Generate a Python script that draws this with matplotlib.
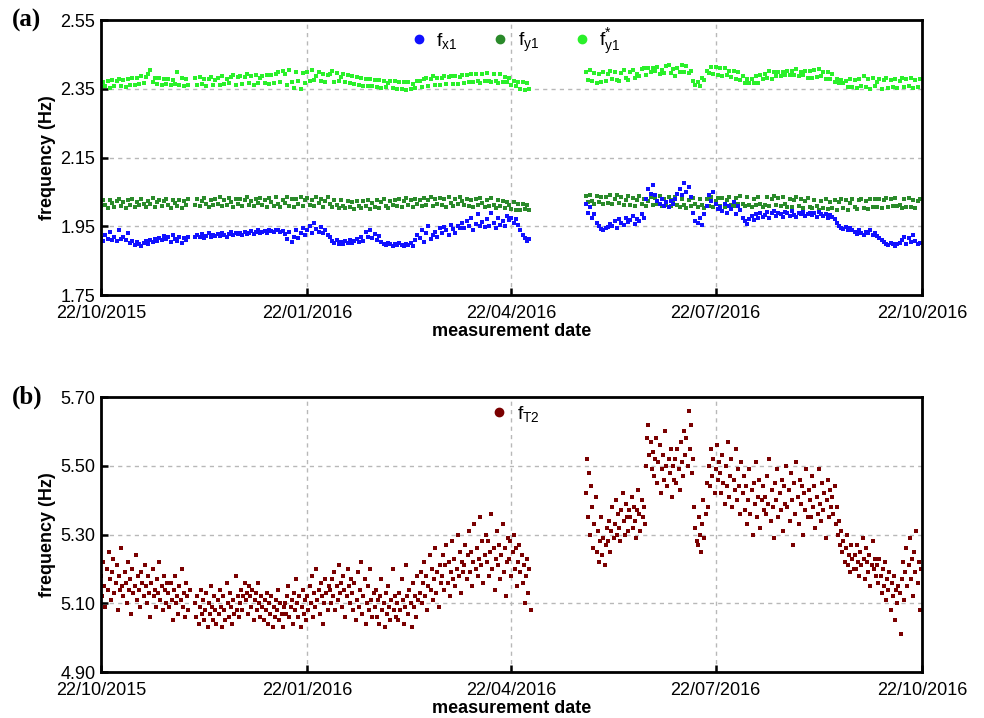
import numpy as np
import matplotlib
matplotlib.use('Agg')
import matplotlib.pyplot as plt
import matplotlib.dates as mdates
from matplotlib.lines import Line2D
from datetime import datetime

plt.rcParams['font.family'] = ['Liberation Sans', 'DejaVu Sans']
plt.rcParams['mathtext.default'] = 'regular'

# measurement segments: first day (days after 22/10/2015) of each continuous block
seg_start = [0, 42, 216]
seg_len_a = [40, 150, 150]   # one reading per day, panel (a)
seg_len_b = [80, 300, 300]   # two readings per day, panel (b)

fx1 = [
    1.915, 1.908, 1.925, 1.912, 1.934, 1.910, 1.918, 1.906, 1.938, 1.914,
    1.920, 1.909, 1.930, 1.903, 1.908, 1.897, 1.905, 1.900, 1.894, 1.902,
    1.907, 1.899, 1.911, 1.904, 1.913, 1.908, 1.916, 1.910, 1.922, 1.912,
    1.918, 1.905, 1.925, 1.913, 1.908, 1.920, 1.901, 1.915, 1.911, 1.919,
    # block 2
    1.918, 1.925, 1.920, 1.928, 1.915, 1.923, 1.930, 1.919, 1.926, 1.921,
    1.929, 1.922, 1.931, 1.925, 1.920, 1.928, 1.933, 1.924, 1.930, 1.927,
    1.932, 1.926, 1.935, 1.929, 1.931, 1.936, 1.928, 1.933, 1.938, 1.930,
    1.934, 1.937, 1.932, 1.939, 1.936, 1.933, 1.938, 1.940, 1.935, 1.937,
    1.928, 1.912, 1.935, 1.905, 1.920, 1.940, 1.915, 1.930, 1.945, 1.925,
    1.938, 1.952, 1.930, 1.960, 1.942, 1.935, 1.948, 1.930, 1.940, 1.925,
    1.918, 1.906, 1.902, 1.909, 1.900, 1.904, 1.898, 1.907, 1.903, 1.910,
    1.902, 1.906, 1.912, 1.905, 1.918, 1.908, 1.935, 1.920, 1.940, 1.915,
    1.928, 1.910, 1.922, 1.905, 1.900, 1.896, 1.902, 1.898, 1.893, 1.899,
    1.895, 1.901, 1.897, 1.892, 1.900, 1.896, 1.903, 1.894, 1.910, 1.925,
    1.915, 1.940, 1.905, 1.930, 1.950, 1.912, 1.925, 1.935, 1.920, 1.945,
    1.932, 1.948, 1.938, 1.925, 1.955, 1.942, 1.930, 1.950, 1.945, 1.960,
    1.945, 1.965, 1.950, 1.975, 1.940, 1.958, 1.985, 1.952, 1.962, 1.948,
    1.970, 1.950, 1.990, 1.960, 1.945, 1.975, 1.955, 1.965, 1.950, 1.980,
    1.968, 1.975, 1.960, 1.972, 1.955, 1.940, 1.925, 1.915, 1.908, 1.912,
    # block 3
    2.015, 1.990, 2.005, 1.975, 1.985, 1.960, 1.950, 1.942, 1.938, 1.945,
    1.948, 1.958, 1.952, 1.965, 1.945, 1.970, 1.960, 1.955, 1.975, 1.962,
    1.968, 1.980, 1.958, 1.972, 1.965, 1.985, 1.975, 2.030, 2.060, 2.045,
    2.070, 2.040, 2.025, 2.015, 2.030, 2.010, 2.020, 2.005, 2.025, 2.015,
    2.030, 2.045, 2.060, 2.040, 2.075, 2.050, 2.065, 2.035, 1.990, 1.965,
    1.960, 1.975, 1.955, 1.985, 2.010, 2.040, 2.025, 2.050, 2.015, 2.000,
    2.005, 1.995, 2.015, 1.990, 2.010, 2.000, 2.020, 1.985, 2.008, 1.998,
    1.975, 1.965, 1.958, 1.972, 1.980, 1.968, 1.985, 1.975, 1.990, 1.978,
    1.982, 1.992, 1.975, 1.988, 1.995, 1.980, 1.990, 1.985, 1.978, 1.993,
    1.988, 1.980, 1.996, 1.984, 1.978, 1.990, 1.986, 1.992, 1.980, 1.985,
    1.990, 1.982, 1.988, 1.978, 1.992, 1.985, 1.980, 1.987, 1.975, 1.983,
    1.978, 1.970, 1.960, 1.952, 1.946, 1.942, 1.948, 1.940, 1.945, 1.938,
    1.935, 1.928, 1.940, 1.932, 1.926, 1.934, 1.930, 1.938, 1.925, 1.932,
    1.922, 1.915, 1.910, 1.905, 1.900, 1.896, 1.902, 1.898, 1.893, 1.899,
    1.902, 1.910, 1.920, 1.900, 1.915, 1.905, 1.925, 1.908, 1.898, 1.903,
]

fy1 = [
    2.008, 2.026, 2.012, 2.004, 2.028, 2.018, 2.006, 2.024, 2.030, 2.010,
    2.022, 2.003, 2.027, 2.013, 2.031, 2.007, 2.021, 2.011, 2.029, 2.015,
    2.005, 2.025, 2.014, 2.032, 2.006, 2.020, 2.028, 2.009, 2.023, 2.030,
    2.012, 2.004, 2.027, 2.019, 2.008, 2.026, 2.003, 2.024, 2.013, 2.029,
    # block 2
    2.012, 2.030, 2.008, 2.025, 2.033, 2.014, 2.006, 2.028, 2.011, 2.031,
    2.016, 2.034, 2.009, 2.027, 2.013, 2.032, 2.022, 2.007, 2.029, 2.015,
    2.031, 2.010, 2.026, 2.035, 2.012, 2.024, 2.008, 2.030, 2.017, 2.033,
    2.011, 2.028, 2.006, 2.032, 2.020, 2.009, 2.034, 2.014, 2.005, 2.027,
    2.018, 2.035, 2.010, 2.029, 2.007, 2.031, 2.015, 2.034, 2.008, 2.026,
    2.033, 2.012, 2.028, 2.009, 2.036, 2.017, 2.030, 2.006, 2.024, 2.034,
    2.014, 2.005, 2.027, 2.011, 2.003, 2.026, 2.009, 2.002, 2.023, 2.007,
    2.021, 2.001, 2.025, 2.010, 2.004, 2.024, 2.008, 2.028, 2.000, 2.019,
    2.006, 2.026, 2.002, 2.021, 2.029, 2.008, 2.004, 2.025, 2.011, 2.027,
    2.009, 2.030, 2.006, 2.024, 2.032, 2.012, 2.027, 2.007, 2.031, 2.014,
    2.028, 2.008, 2.032, 2.013, 2.026, 2.035, 2.010, 2.030, 2.016, 2.033,
    2.011, 2.029, 2.007, 2.034, 2.019, 2.009, 2.031, 2.014, 2.036, 2.025,
    2.013, 2.031, 2.008, 2.027, 2.005, 2.030, 2.012, 2.033, 2.019, 2.006,
    2.028, 2.010, 2.032, 2.013, 2.004, 2.026, 2.009, 2.024, 2.002, 2.020,
    2.011, 2.001, 2.022, 1.999, 2.016, 1.998, 2.014, 2.000, 2.012, 1.997,
    # block 3
    2.038, 2.020, 2.041, 2.024, 2.015, 2.039, 2.021, 2.036, 2.016, 2.035,
    2.019, 2.040, 2.014, 2.030, 2.042, 2.017, 2.034, 2.012, 2.028, 2.038,
    2.013, 2.032, 2.010, 2.027, 2.037, 2.014, 2.031, 2.009, 2.025, 2.036,
    2.011, 2.033, 2.016, 2.037, 2.010, 2.029, 2.013, 2.035, 2.008, 2.026,
    2.034, 2.012, 2.006, 2.030, 2.011, 2.004, 2.028, 2.009, 2.033, 2.014,
    2.007, 2.031, 2.012, 2.003, 2.029, 2.008, 2.034, 2.006, 2.024, 2.033,
    2.010, 2.032, 2.007, 2.027, 2.035, 2.013, 2.009, 2.033, 2.015, 2.037,
    2.014, 2.008, 2.035, 2.012, 2.006, 2.031, 2.011, 2.036, 2.016, 2.005,
    2.013, 2.034, 2.008, 2.030, 2.037, 2.012, 2.032, 2.009, 2.035, 2.014,
    2.007, 2.031, 2.005, 2.026, 2.034, 2.008, 2.029, 2.004, 2.024, 2.033,
    2.006, 2.002, 2.027, 2.008, 1.999, 2.025, 2.004, 2.030, 2.001, 2.021,
    2.003, 2.028, 1.999, 2.022, 2.030, 2.002, 2.026, 1.998, 2.019, 2.029,
    2.005, 2.000, 2.027, 2.031, 2.003, 2.024, 2.001, 2.029, 2.006, 2.030,
    2.007, 2.031, 2.004, 2.026, 2.033, 2.005, 2.029, 2.010, 2.032, 2.008,
    2.011, 2.004, 2.030, 2.007, 2.032, 2.005, 2.028, 2.002, 2.024, 2.031,
]

fy1_star = [
    2.354, 2.371, 2.358, 2.374, 2.352, 2.376, 2.357, 2.373, 2.379, 2.359,
    2.377, 2.356, 2.380, 2.361, 2.383, 2.362, 2.382, 2.364, 2.386, 2.366,
    2.384, 2.392, 2.405, 2.369, 2.381, 2.364, 2.383, 2.361, 2.378, 2.365,
    2.380, 2.362, 2.377, 2.364, 2.398, 2.360, 2.381, 2.357, 2.378, 2.362,
    # block 2
    2.381, 2.360, 2.384, 2.363, 2.378, 2.358, 2.380, 2.385, 2.362, 2.377,
    2.383, 2.361, 2.387, 2.364, 2.380, 2.368, 2.385, 2.390, 2.362, 2.384,
    2.388, 2.365, 2.385, 2.392, 2.366, 2.387, 2.362, 2.389, 2.368, 2.383,
    2.386, 2.366, 2.390, 2.364, 2.391, 2.368, 2.394, 2.398, 2.370, 2.402,
    2.392, 2.362, 2.406, 2.370, 2.352, 2.398, 2.374, 2.350, 2.395, 2.368,
    2.398, 2.372, 2.405, 2.376, 2.386, 2.400, 2.373, 2.394, 2.370, 2.391,
    2.394, 2.402, 2.370, 2.396, 2.372, 2.385, 2.392, 2.369, 2.390, 2.366,
    2.387, 2.364, 2.384, 2.361, 2.382, 2.359, 2.380, 2.357, 2.378, 2.358,
    2.377, 2.355, 2.376, 2.353, 2.374, 2.354, 2.368, 2.373, 2.352, 2.372,
    2.351, 2.370, 2.349, 2.369, 2.348, 2.371, 2.350, 2.365, 2.352, 2.372,
    2.374, 2.354, 2.378, 2.383, 2.359, 2.380, 2.386, 2.362, 2.383, 2.360,
    2.382, 2.386, 2.363, 2.384, 2.388, 2.365, 2.387, 2.363, 2.385, 2.390,
    2.368, 2.390, 2.370, 2.392, 2.371, 2.394, 2.372, 2.368, 2.393, 2.373,
    2.395, 2.374, 2.370, 2.394, 2.372, 2.368, 2.392, 2.371, 2.385, 2.369,
    2.383, 2.362, 2.374, 2.358, 2.371, 2.350, 2.370, 2.348, 2.368, 2.350,
    # block 3
    2.400, 2.377, 2.404, 2.372, 2.396, 2.368, 2.392, 2.370, 2.398, 2.374,
    2.394, 2.402, 2.380, 2.400, 2.377, 2.372, 2.397, 2.404, 2.382, 2.376,
    2.400, 2.406, 2.382, 2.394, 2.386, 2.408, 2.412, 2.390, 2.410, 2.400,
    2.412, 2.402, 2.414, 2.393, 2.406, 2.395, 2.416, 2.420, 2.397, 2.408,
    2.388, 2.410, 2.399, 2.419, 2.398, 2.417, 2.396, 2.403, 2.372, 2.360,
    2.370, 2.358, 2.382, 2.377, 2.403, 2.395, 2.415, 2.394, 2.413, 2.391,
    2.410, 2.388, 2.412, 2.390, 2.401, 2.385, 2.403, 2.380, 2.400, 2.377,
    2.388, 2.368, 2.380, 2.367, 2.379, 2.366, 2.386, 2.368, 2.390, 2.378,
    2.392, 2.381, 2.401, 2.379, 2.399, 2.387, 2.398, 2.388, 2.400, 2.390,
    2.402, 2.391, 2.401, 2.389, 2.409, 2.388, 2.400, 2.390, 2.402, 2.382,
    2.403, 2.383, 2.405, 2.385, 2.407, 2.387, 2.398, 2.378, 2.400, 2.380,
    2.392, 2.370, 2.380, 2.368, 2.376, 2.366, 2.374, 2.354, 2.378, 2.356,
    2.376, 2.352, 2.380, 2.357, 2.386, 2.354, 2.378, 2.350, 2.382, 2.358,
    2.371, 2.379, 2.351, 2.375, 2.383, 2.353, 2.377, 2.356, 2.380, 2.352,
    2.374, 2.382, 2.354, 2.378, 2.357, 2.381, 2.352, 2.376, 2.356, 2.378,
]

fT2 = [
    5.18, 5.12, 5.22, 5.15, 5.09, 5.20, 5.14, 5.25, 5.17, 5.11, 5.19, 5.23, 5.13, 5.16, 5.21, 5.08, 5.18, 5.14, 5.26, 5.15,
    5.12, 5.19, 5.16, 5.10, 5.22, 5.14, 5.17, 5.07, 5.20, 5.13, 5.15, 5.24, 5.11, 5.18, 5.14, 5.09, 5.19, 5.16, 5.12, 5.21,
    5.15, 5.10, 5.18, 5.13, 5.06, 5.16, 5.20, 5.12, 5.14, 5.09, 5.17, 5.13, 5.22, 5.11, 5.15, 5.08, 5.18, 5.14, 5.10, 5.16,
    5.13, 5.09, 5.16, 5.11, 5.05, 5.14, 5.18, 5.10, 5.12, 5.07, 5.15, 5.11, 5.20, 5.09, 5.13, 5.06, 5.16, 5.12, 5.08, 5.14,
    # block 2
    5.10, 5.06, 5.12, 5.04, 5.09, 5.14, 5.07, 5.11, 5.05, 5.08, 5.13, 5.03, 5.10, 5.07, 5.15, 5.09, 5.05, 5.12, 5.08, 5.04,
    5.11, 5.07, 5.14, 5.09, 5.03, 5.12, 5.08, 5.05, 5.16, 5.10, 5.06, 5.13, 5.09, 5.04, 5.11, 5.07, 5.18, 5.08, 5.12, 5.06,
    5.10, 5.14, 5.08, 5.12, 5.16, 5.11, 5.13, 5.07, 5.15, 5.12, 5.09, 5.14, 5.05, 5.11, 5.13, 5.08, 5.16, 5.10, 5.06, 5.12,
    5.09, 5.05, 5.11, 5.08, 5.13, 5.04, 5.10, 5.07, 5.12, 5.03, 5.09, 5.06, 5.11, 5.08, 5.14, 5.05, 5.10, 5.07, 5.03, 5.09,
    5.10, 5.07, 5.12, 5.15, 5.06, 5.09, 5.11, 5.04, 5.13, 5.08, 5.17, 5.10, 5.06, 5.12, 5.03, 5.09, 5.14, 5.07, 5.11, 5.05,
    5.12, 5.08, 5.15, 5.10, 5.18, 5.06, 5.13, 5.09, 5.20, 5.11, 5.14, 5.07, 5.16, 5.12, 5.04, 5.10, 5.17, 5.13, 5.08, 5.15,
    5.14, 5.10, 5.17, 5.12, 5.19, 5.08, 5.15, 5.11, 5.21, 5.13, 5.16, 5.09, 5.18, 5.14, 5.06, 5.12, 5.20, 5.15, 5.10, 5.17,
    5.13, 5.08, 5.16, 5.05, 5.11, 5.19, 5.09, 5.14, 5.22, 5.07, 5.12, 5.17, 5.04, 5.10, 5.15, 5.08, 5.20, 5.11, 5.06, 5.13,
    5.09, 5.14, 5.06, 5.11, 5.04, 5.12, 5.17, 5.08, 5.10, 5.03, 5.13, 5.07, 5.15, 5.09, 5.05, 5.11, 5.20, 5.08, 5.12, 5.06,
    5.10, 5.05, 5.13, 5.08, 5.17, 5.11, 5.04, 5.09, 5.21, 5.12, 5.07, 5.14, 5.10, 5.03, 5.16, 5.09, 5.12, 5.06, 5.18, 5.11,
    5.13, 5.19, 5.10, 5.16, 5.22, 5.12, 5.18, 5.08, 5.15, 5.24, 5.14, 5.20, 5.11, 5.17, 5.26, 5.13, 5.19, 5.09, 5.21, 5.16,
    5.18, 5.24, 5.14, 5.21, 5.27, 5.16, 5.22, 5.12, 5.19, 5.28, 5.17, 5.23, 5.15, 5.20, 5.30, 5.18, 5.25, 5.13, 5.22, 5.19,
    5.21, 5.27, 5.17, 5.24, 5.31, 5.19, 5.25, 5.15, 5.22, 5.33, 5.20, 5.26, 5.18, 5.23, 5.35, 5.21, 5.28, 5.16, 5.24, 5.30,
    5.22, 5.28, 5.18, 5.25, 5.36, 5.20, 5.26, 5.14, 5.23, 5.31, 5.21, 5.27, 5.17, 5.24, 5.33, 5.19, 5.26, 5.12, 5.22, 5.29,
    5.23, 5.28, 5.18, 5.25, 5.30, 5.20, 5.26, 5.15, 5.22, 5.27, 5.19, 5.24, 5.16, 5.21, 5.10, 5.18, 5.23, 5.13, 5.20, 5.08,
    # block 3
    5.42, 5.52, 5.35, 5.48, 5.30, 5.44, 5.38, 5.26, 5.33, 5.41, 5.25, 5.31, 5.22, 5.28, 5.35, 5.24, 5.29, 5.21, 5.27, 5.32,
    5.28, 5.34, 5.25, 5.31, 5.38, 5.29, 5.33, 5.40, 5.30, 5.36, 5.32, 5.28, 5.37, 5.42, 5.34, 5.30, 5.39, 5.35, 5.31, 5.37,
    5.35, 5.41, 5.32, 5.38, 5.34, 5.29, 5.37, 5.43, 5.36, 5.31, 5.40, 5.35, 5.38, 5.33, 5.50, 5.58, 5.62, 5.53, 5.57, 5.49,
    5.54, 5.47, 5.52, 5.58, 5.45, 5.51, 5.56, 5.42, 5.49, 5.53, 5.46, 5.60, 5.50, 5.44, 5.52, 5.48, 5.55, 5.41, 5.50, 5.46,
    5.52, 5.45, 5.55, 5.49, 5.43, 5.57, 5.51, 5.47, 5.60, 5.53, 5.58, 5.50, 5.66, 5.55, 5.62, 5.48, 5.52, 5.38, 5.32, 5.28,
    5.27, 5.35, 5.30, 5.25, 5.33, 5.40, 5.29, 5.36, 5.45, 5.38, 5.50, 5.44, 5.55, 5.47, 5.52, 5.42, 5.49, 5.56, 5.46, 5.51,
    5.48, 5.42, 5.53, 5.45, 5.39, 5.50, 5.44, 5.57, 5.41, 5.47, 5.52, 5.38, 5.46, 5.43, 5.55, 5.40, 5.49, 5.44, 5.36, 5.51,
    5.42, 5.47, 5.37, 5.44, 5.33, 5.40, 5.49, 5.36, 5.43, 5.30, 5.45, 5.39, 5.51, 5.35, 5.41, 5.46, 5.32, 5.40, 5.44, 5.37,
    5.41, 5.36, 5.47, 5.39, 5.52, 5.34, 5.43, 5.38, 5.29, 5.45, 5.40, 5.49, 5.35, 5.42, 5.37, 5.46, 5.31, 5.44, 5.39, 5.50,
    5.38, 5.43, 5.34, 5.48, 5.40, 5.27, 5.45, 5.36, 5.51, 5.41, 5.33, 5.46, 5.39, 5.44, 5.30, 5.42, 5.37, 5.49, 5.35, 5.43,
    5.40, 5.35, 5.47, 5.38, 5.44, 5.32, 5.41, 5.36, 5.49, 5.39, 5.34, 5.45, 5.37, 5.42, 5.29, 5.40, 5.46, 5.35, 5.43, 5.38,
    5.41, 5.36, 5.44, 5.33, 5.38, 5.30, 5.34, 5.27, 5.31, 5.25, 5.28, 5.22, 5.26, 5.30, 5.21, 5.24, 5.19, 5.27, 5.23, 5.20,
    5.24, 5.20, 5.27, 5.22, 5.18, 5.25, 5.21, 5.29, 5.23, 5.17, 5.26, 5.22, 5.19, 5.24, 5.15, 5.21, 5.28, 5.20, 5.23, 5.18,
    5.21, 5.16, 5.23, 5.18, 5.13, 5.20, 5.15, 5.22, 5.11, 5.17, 5.14, 5.19, 5.08, 5.16, 5.12, 5.18, 5.05, 5.14, 5.10, 5.15,
    5.13, 5.01, 5.17, 5.22, 5.11, 5.19, 5.26, 5.15, 5.21, 5.29, 5.17, 5.23, 5.12, 5.25, 5.19, 5.31, 5.16, 5.22, 5.08, 5.20,
]

t0 = mdates.date2num(datetime(2015, 10, 22))
t1 = mdates.date2num(datetime(2016, 10, 22))
tick_dates = [datetime(2015, 10, 22), datetime(2016, 1, 22), datetime(2016, 4, 22),
              datetime(2016, 7, 22), datetime(2016, 10, 22)]


def sample_days(lengths, step):
    return np.concatenate([s + step * np.arange(n) for s, n in zip(seg_start, lengths)])


days_a = t0 + sample_days(seg_len_a, 1.0)
days_b = t0 + sample_days(seg_len_b, 0.5)

c_x1, c_y1, c_y1s, c_t2 = '#1010ff', '#2a8a2a', '#2af02a', '#7a0000'

fig = plt.figure(figsize=(9.84, 7.18), dpi=100)
ax1 = fig.add_axes([0.1026, 0.589, 0.8344, 0.383])
ax2 = fig.add_axes([0.1026, 0.064, 0.8344, 0.383])

ax1.plot(days_a, fy1_star, 's', ms=2.5, mew=0, color=c_y1s)
ax1.plot(days_a, fy1, 's', ms=2.5, mew=0, color=c_y1)
ax1.plot(days_a, fx1, 's', ms=2.5, mew=0, color=c_x1)
ax2.plot(days_b, fT2, 's', ms=2.4, mew=0, color=c_t2)

for ax, ylo, yhi in [(ax1, 1.75, 2.55), (ax2, 4.90, 5.70)]:
    ax.set_xlim(t0, t1)
    ax.set_ylim(ylo, yhi)
    ax.set_yticks(np.linspace(ylo, yhi, 5))
    ax.yaxis.set_major_formatter(plt.FormatStrFormatter('%.2f'))
    ax.set_xticks(mdates.date2num(tick_dates))
    ax.xaxis.set_major_formatter(mdates.DateFormatter('%d/%m/%Y'))
    ax.grid(True, color='#b8b8b8', linestyle=(0, (3, 3)), lw=1)
    ax.tick_params(direction='in', length=5, width=1.8, labelsize=13,
                   top=False, right=False)
    ax.tick_params(axis='x', pad=7)
    ax.tick_params(axis='y', pad=4)
    for sp in ax.spines.values():
        sp.set_linewidth(2)
    ax.set_xlabel('measurement date', fontsize=13, fontweight='bold', labelpad=1)
    ax.set_ylabel('frequency (Hz)', fontsize=13, fontweight='bold', labelpad=3)


def dot(c):
    return Line2D([], [], marker='o', ls='none', ms=6, color=c)


ax1.legend([dot(c_x1), dot(c_y1), dot(c_y1s)],
           [r'$\mathregular{f_{x1}}$', r'$\mathregular{f_{y1}}$', r'$\mathregular{f^{*}_{y1}}$'],
           loc='upper center', bbox_to_anchor=(0.505, 1.04), ncol=3, frameon=False,
           fontsize=14, handlelength=0.8, handletextpad=0.5, columnspacing=1.8)
ax2.legend([dot(c_t2)], [r'$\mathregular{f_{T2}}$'],
           loc='upper center', bbox_to_anchor=(0.505, 1.04), frameon=False,
           fontsize=14, handlelength=0.8, handletextpad=0.5)

fig.text(0.012, 0.972, '(a)', family='Liberation Serif', fontweight='bold',
         fontsize=18, va='center')
fig.text(0.012, 0.447, '(b)', family='Liberation Serif', fontweight='bold',
         fontsize=18, va='center')

fig.savefig('out.png', dpi=100)
